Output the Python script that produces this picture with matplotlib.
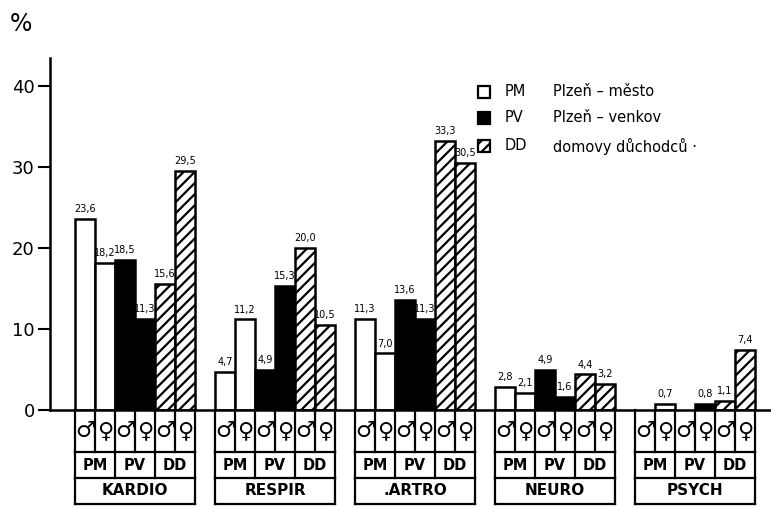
import matplotlib
matplotlib.use("Agg")
import matplotlib.pyplot as plt
from matplotlib.patches import Rectangle

# ---- data ----
categories = ["KARDIO", "RESPIR", ".ARTRO", "NEURO", "PSYCH"]
series = ["PM", "PV", "DD"]
series_names = ["Plzeň – město", "Plzeň – venkov", "domovy důchodců ·"]
genders = ["♂", "♀"]
# values per category: PM♂, PM♀, PV♂, PV♀, DD♂, DD♀
values = {
    "KARDIO": [23.6, 18.2, 18.5, 11.3, 15.6, 29.5],
    "RESPIR": [4.7, 11.2, 4.9, 15.3, 20.0, 10.5],
    ".ARTRO": [11.3, 7.0, 13.6, 11.3, 33.3, 30.5],
    "NEURO": [2.8, 2.1, 4.9, 1.6, 4.4, 3.2],
    "PSYCH": [0.0, 0.7, 0.0, 0.8, 1.1, 7.4],
}
yticks = [0, 10, 20, 30, 40]

plt.rcParams["hatch.linewidth"] = 1.6
fig = plt.figure(figsize=(7.71, 5.07), dpi=100)
W, H = 771, 507
ax = fig.add_axes([50 / W, 97 / H, 721 / W, 352 / H])
ax.set_xlim(-1.25, 34.8)
ax.set_ylim(0, 43.5)

styles = {
    "PM": dict(facecolor="white", hatch=None),
    "PV": dict(facecolor="black", hatch=None),
    "DD": dict(facecolor="white", hatch="///"),
}

gap = 7
for g, cat in enumerate(categories):
    x0 = g * gap
    vals = values[cat]
    for i, v in enumerate(vals):
        s = series[i // 2]
        if v > 0:
            ax.bar(x0 + i, v, width=1, align="edge", edgecolor="black",
                   linewidth=1.8, **styles[s])
            ax.text(x0 + i + 0.5, v + 0.6, f"{v:.1f}".replace(".", ","),
                    ha="center", va="bottom", fontsize=7, family="DejaVu Sans")
    # table below the axis
    lw = 1.6
    y1, y2, y3 = -5.2, -8.4, -11.6
    for i in range(7):
        ax.plot([x0 + i, x0 + i], [0, y1], color="black", lw=lw, clip_on=False)
    ax.plot([x0, x0 + 6], [y1, y1], color="black", lw=lw, clip_on=False)
    for i in (0, 2, 4, 6):
        ax.plot([x0 + i, x0 + i], [y1, y2], color="black", lw=lw, clip_on=False)
    ax.plot([x0, x0 + 6], [y2, y2], color="black", lw=lw, clip_on=False)
    for i in (0, 6):
        ax.plot([x0 + i, x0 + i], [y2, y3], color="black", lw=lw, clip_on=False)
    ax.plot([x0, x0 + 6], [y3, y3], color="black", lw=lw, clip_on=False)
    for i in range(6):
        ax.text(x0 + i + 0.5, y1 / 2, genders[i % 2], ha="center", va="center",
                fontsize=16, fontweight="bold", clip_on=False)
    for k, s in enumerate(series):
        ax.text(x0 + 2 * k + 1, (y1 + y2) / 2, s, ha="center", va="center",
                fontsize=10.5, fontweight="bold", clip_on=False)
    ax.text(x0 + 3, (y2 + y3) / 2, cat, ha="center", va="center",
            fontsize=11, fontweight="bold", clip_on=False)

# axes styling
for sp in ("top", "right"):
    ax.spines[sp].set_visible(False)
ax.spines["left"].set_linewidth(1.8)
ax.spines["bottom"].set_linewidth(1.8)
ax.set_xticks([])
ax.set_yticks(yticks)
ax.set_yticklabels([str(t) for t in yticks], fontsize=13)
ax.tick_params(axis="y", direction="out", length=9, width=1.5, pad=2)

fig.text(10 / W, 1 - 24 / H, "%", fontsize=17, ha="left", va="center")

# legend
leg_y = [92, 118, 146]
for k, s in enumerate(series):
    yc = 1 - leg_y[k] / H
    sq = 12
    fig.patches.append(Rectangle((478 / W, yc - sq / 2 / H), sq / W, sq / H,
                                 transform=fig.transFigure, facecolor=styles[s]["facecolor"],
                                 hatch=styles[s]["hatch"], edgecolor="black", lw=1.6))
    fig.text(505 / W, yc, s, fontsize=10.5, va="center", ha="left")
    fig.text(553 / W, yc, series_names[k], fontsize=10.5, va="center", ha="left")

fig.savefig("out.png", dpi=100)
